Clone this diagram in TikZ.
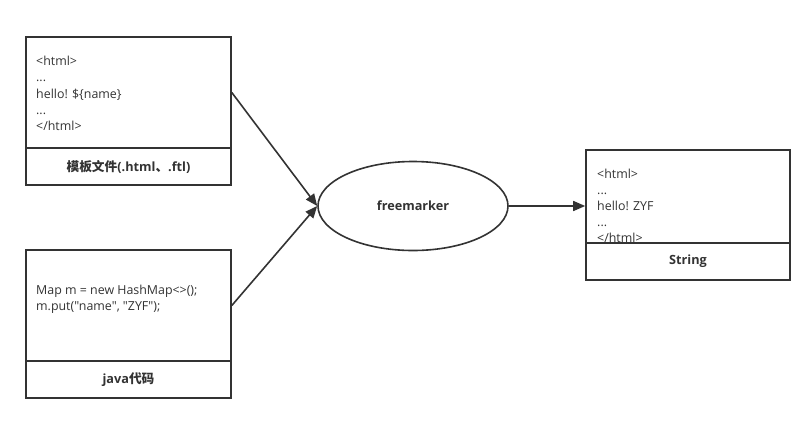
\documentclass[tikz,border=0pt]{standalone}
\usepackage{fontspec}
\setmainfont{Open Sans}[Ligatures=TeXOff]
\newfontfamily\cjk{Noto Sans CJK SC}
\usetikzlibrary{shapes.geometric,arrows.meta}
\definecolor{ln}{HTML}{333333}
\begin{document}
\begin{tikzpicture}[x=1pt,y=-1pt,
  box/.style={draw=ln,line width=1.6pt,minimum width=205pt,inner sep=0pt},
  code/.style={anchor=north west,inner sep=0pt,align=left,text=ln,font=\fontsize{12.4}{16.2}\selectfont},
  lab/.style={text=ln,font=\fontsize{12.7}{14}\selectfont\bfseries},
  arr/.style={draw=ln,line width=1.6pt,-{Triangle[length=12pt,width=10pt]}}]
\useasboundingbox (0,0) rectangle (812,432);
% box A
\node[box,minimum height=111pt] (atop) at (128.5,92.5) {};
\node[box,minimum height=37pt] (abot) at (128.5,166.5) {};
\node[lab] (alab) at (abot.center) {{\cjk 模板文件}(.html{\cjk 、}.ftl)};
\node[code] (atxt) at (36,56) {<html>\\...\\hello! \$\{name\}\\...\\</html>};
% box B
\node[box,minimum height=111pt] (btop) at (128.5,305.5) {};
\node[box,minimum height=37pt] (bbot) at (128.5,379.5) {};
\node[lab] (blab) at (bbot.center) {java{\cjk 代码}};
\node[code] (btxt) at (36,285) {Map m = new HashMap<>();\\m.put("name", "ZYF");};
% box C
\node[box,minimum width=204pt,minimum height=93pt] (ctop) at (688,196.5) {};
\node[box,minimum width=204pt,minimum height=37pt] (cbot) at (688,261.5) {};
\node[lab] (clab) at (cbot.center) {String};
\begin{scope}
\clip (588,152) rectangle (788,242);
\node[code] (ctxt) at (597,168.5) {<html>\\...\\hello! ZYF\\...\\</html>};
\end{scope}
% ellipse
\node[ellipse,draw=ln,line width=1.6pt,minimum width=190pt,minimum height=89pt,inner sep=0pt] (fm) at (413,206) {};
\node[lab] (fmlab) at (fm.center) {freemarker};
% arrows
\draw[arr] (atop.east) -- (fm.west);
\draw[arr] (btop.east) -- (fm.west);
\draw[arr] (fm.east) -- (fm.east -| ctop.west);
\end{tikzpicture}
\end{document}
